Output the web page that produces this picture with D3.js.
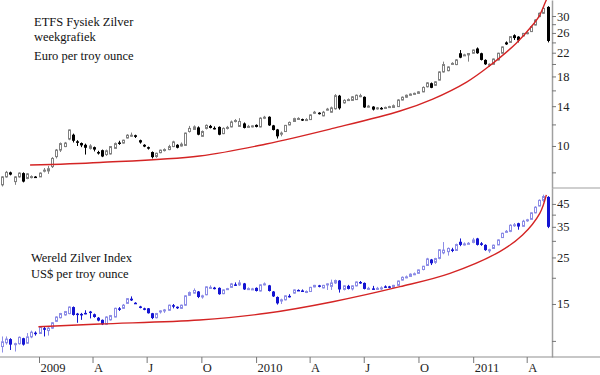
<!DOCTYPE html>
<html>
<head>
<meta charset="utf-8">
<script src="https://cdn.jsdelivr.net/npm/d3@7"></script>
<style>
  body { margin: 0; background: #fff; }
</style>
</head>
<body>
<svg id="chart" width="600" height="375"></svg>
<script>
// first weekly bar (week ending Friday 31 Oct 2008), one bar per week after that
const firstWeek = new Date(2008, 9, 31);

// ETFS Fysiek Zilver, euro per ounce: [open, high, low, close]
const euroBars = [
  [7.2,7.75,7.1,7.7],[7.7,8.1,7.65,8.0],[8.0,8.05,7.8,7.85],[7.4,7.75,7.2,7.7],[7.7,8.0,7.65,7.95],
  [7.95,8.0,7.35,7.4],[7.6,7.95,7.55,7.9],[7.7,7.8,7.6,7.72],[7.72,7.75,7.65,7.7],[7.7,8.0,7.7,7.95],
  [8.1,8.3,8.0,8.15],[8.1,8.45,7.9,8.25],[8.4,9.1,8.3,9.0],[9.14,9.75,9.0,9.66],[9.66,10.3,9.5,10.2],
  [9.95,10.35,9.9,10.25],[10.6,11.5,10.5,11.45],[11.0,11.1,10.3,10.45],[10.4,10.5,10.0,10.3],[10.25,10.3,9.9,10.05],
  [10.1,10.2,9.3,9.85],[9.8,10.15,9.7,10.0],[9.9,9.95,9.55,9.7],[9.5,9.6,9.3,9.45],[9.65,9.7,9.1,9.15],
  [9.3,9.7,9.2,9.6],[9.35,10.0,9.3,9.95],[9.8,10.3,9.75,10.2],[10.3,10.45,10.1,10.25],[10.25,10.55,10.2,10.5],
  [10.7,11.05,10.65,10.95],[10.95,11.2,10.8,10.95],[10.95,11.0,10.7,10.8],[10.5,10.55,10.2,10.3],[10.1,10.15,9.9,9.95],
  [9.9,9.95,9.7,9.8],[9.5,9.55,9.0,9.1],[9.15,9.45,9.05,9.4],[9.45,9.7,9.4,9.65],[9.65,9.8,9.55,9.7],
  [9.7,10.1,9.65,9.95],[9.95,10.45,9.9,10.35],[10.1,10.15,9.8,9.85],[10.0,10.3,9.95,10.15],[10.05,11.2,10.0,11.15],
  [11.3,11.85,11.2,11.6],[11.5,11.9,11.45,11.75],[11.7,11.8,10.95,11.0],[10.85,11.4,10.8,11.3],[11.6,12.0,11.5,11.9],
  [11.85,11.95,11.6,11.65],[11.65,11.8,11.5,11.6],[11.75,11.8,10.95,11.0],[11.1,11.7,11.05,11.6],[11.6,11.85,11.5,11.7],
  [11.75,12.4,11.7,12.25],[12.3,12.55,12.2,12.4],[11.8,12.65,11.75,12.3],[12.1,12.2,11.6,11.65],[11.8,11.95,11.7,11.8],
  [11.8,11.9,11.7,11.85],[11.95,12.0,11.7,11.75],[11.75,12.75,11.7,12.65],[12.7,12.9,12.55,12.75],[12.8,12.85,11.85,11.9],
  [11.9,11.95,11.4,11.45],[11.5,11.55,10.65,10.85],[11.05,11.3,10.85,11.15],[11.3,11.95,11.25,11.9],[11.95,12.3,11.9,12.2],
  [12.3,12.7,12.25,12.6],[12.6,12.75,12.5,12.62],[12.55,12.6,12.35,12.45],[12.45,12.65,12.4,12.5],[12.5,13.05,12.45,13.0],
  [13.2,13.45,13.1,13.3],[13.25,13.3,13.05,13.15],[12.9,13.45,12.85,13.3],[13.6,13.8,13.5,13.65],[13.3,13.95,13.25,13.8],
  [13.7,15.5,13.6,15.3],[15.3,15.4,13.6,13.75],[14.4,14.85,14.3,14.7],[14.8,14.95,14.65,14.8],[14.7,15.25,14.65,15.15],
  [14.8,15.45,14.75,15.35],[15.3,15.55,15.1,15.3],[15.15,15.2,13.8,13.85],[14.0,14.15,13.85,14.0],[13.95,14.0,13.5,13.6],
  [13.7,13.9,13.6,13.8],[13.8,13.9,13.6,13.75],[13.8,13.95,13.7,13.85],[13.9,14.05,13.8,13.95],[13.85,14.2,13.8,14.05],
  [13.95,14.85,13.9,14.75],[14.75,15.2,14.7,15.1],[15.1,15.45,15.0,15.35],[15.35,15.6,15.3,15.5],[15.55,15.7,15.45,15.6],
  [15.6,15.9,15.55,15.8],[15.8,16.55,15.75,16.4],[16.5,17.15,16.4,17.05],[17.0,17.1,16.3,16.35],[16.7,17.3,16.6,17.2],
  [17.45,18.8,17.4,18.7],[18.7,20.4,18.6,19.9],[18.9,19.6,18.8,19.5],[20.05,20.3,19.9,20.1],[19.9,20.85,19.8,20.7],
  [21.9,22.5,21.0,21.1],[21.55,21.8,21.4,21.6],[21.6,21.9,20.4,21.85],[21.9,22.6,21.85,22.5],[22.8,23.0,21.8,21.9],
  [21.9,22.0,20.6,20.7],[20.7,20.8,19.85,19.95],[19.95,20.1,19.5,19.95],[19.95,20.95,19.9,20.85],[20.7,22.0,20.6,21.9],
  [21.9,23.2,21.85,23.1],[24.0,24.2,23.5,23.6],[24.0,25.3,23.9,25.2],[25.5,25.7,24.5,24.9],[25.2,25.3,24.0,24.4],
  [25.35,26.0,25.3,25.9],[25.9,26.3,25.7,26.05],[26.3,27.6,26.2,27.4],[27.8,29.2,27.7,29.0],[29.85,30.9,29.7,30.7],
  [30.7,32.6,30.5,32.0],[32.4,32.6,24.0,24.3]
];

// Wereld Zilver Index, US$ per ounce: [open, high, low, close]
const usdBars = [
  [9.4,10.5,8.8,9.9],[9.8,10.5,9.6,10.2],[10.2,10.3,9.05,9.6],[9.6,9.8,8.9,9.7],[9.7,10.5,9.6,10.4],
  [10.3,10.35,9.5,9.6],[9.75,10.9,9.7,10.45],[10.45,11.2,10.3,11.0],[10.95,11.1,10.6,10.8],[10.85,11.7,10.8,11.6],
  [11.5,11.7,10.5,11.3],[11.2,11.7,10.6,11.5],[11.5,12.3,11.4,12.2],[12.4,13.1,12.3,13.0],[12.9,13.6,12.8,13.5],
  [13.3,13.9,13.2,13.8],[13.5,14.6,13.4,14.5],[14.5,14.6,13.2,13.3],[13.5,13.6,12.2,13.45],[13.45,13.6,12.6,13.4],
  [13.6,14.0,13.4,13.5],[13.8,13.9,12.8,13.6],[13.4,13.5,12.9,13.0],[12.9,13.0,12.4,12.5],[12.6,12.65,11.9,12.0],
  [12.0,13.1,11.9,13.0],[12.6,13.3,12.5,13.2],[13.0,14.4,12.95,14.3],[14.3,14.5,13.9,14.2],[14.3,15.0,14.2,14.8],
  [15.1,16.0,15.0,15.9],[15.9,16.3,15.5,15.6],[15.2,15.3,15.0,15.1],[14.6,14.7,14.3,14.4],[14.3,14.4,14.0,14.1],
  [14.3,14.35,13.5,13.55],[13.55,13.6,12.7,12.85],[12.9,13.6,12.8,13.5],[13.8,14.0,13.5,13.9],[14.0,14.2,13.6,14.05],
  [14.0,14.9,13.9,14.8],[14.8,15.0,14.3,14.75],[14.55,14.6,14.2,14.35],[14.3,14.9,14.2,14.8],[14.8,16.5,14.7,16.4],
  [16.5,17.2,16.4,17.0],[16.9,17.8,16.8,17.4],[17.2,17.3,16.0,16.2],[16.2,16.6,15.9,16.4],[16.6,18.2,16.5,18.1],
  [18.0,18.4,17.7,18.0],[17.95,18.1,17.6,17.8],[17.9,18.0,16.6,16.7],[16.8,17.6,16.7,17.5],[17.7,17.9,17.5,17.75],
  [18.0,18.9,17.9,18.7],[18.6,19.0,18.3,18.5],[18.5,19.5,18.3,18.9],[18.8,18.9,17.5,17.6],[17.7,18.0,17.5,17.75],
  [17.7,17.9,17.5,17.7],[17.9,18.0,17.2,17.3],[17.3,18.6,17.2,18.5],[18.6,19.0,18.4,18.7],[18.4,18.5,17.2,17.3],
  [17.2,17.3,16.2,16.3],[16.2,16.3,14.9,15.1],[15.5,15.9,15.0,15.7],[15.7,16.5,15.6,16.4],[16.4,16.7,16.1,16.35],
  [16.9,17.6,16.8,17.5],[17.5,17.6,17.3,17.4],[17.4,17.6,17.2,17.35],[17.1,17.4,16.9,17.2],[17.2,18.1,17.1,18.0],
  [18.1,18.5,18.0,18.4],[18.4,18.5,18.0,18.1],[17.9,18.5,17.8,18.4],[18.6,18.8,17.5,18.7],[18.2,19.6,17.5,18.9],
  [18.9,19.6,18.7,19.4],[19.4,19.5,17.0,17.6],[17.6,18.4,17.4,18.3],[18.3,18.5,17.6,17.7],[17.7,18.4,17.4,18.3],
  [18.3,19.2,18.2,19.1],[19.1,19.3,18.7,18.9],[18.9,19.0,17.6,17.7],[17.7,18.1,17.5,17.8],[17.8,18.3,17.6,17.75],
  [17.75,18.1,17.5,17.8],[17.8,18.2,17.5,17.9],[18.2,18.4,17.9,18.1],[18.2,18.3,17.8,18.0],[18.0,18.5,17.9,18.4],
  [18.4,19.4,18.3,19.3],[19.5,20.3,19.4,20.1],[20.2,20.5,19.9,20.2],[20.3,21.0,20.2,20.8],[20.8,21.2,20.6,20.9],
  [21.0,21.9,20.9,21.8],[21.9,22.8,21.7,22.7],[22.9,24.9,22.8,24.6],[24.45,24.6,23.0,23.45],[23.7,24.9,23.3,24.7],
  [24.75,27.4,24.5,27.2],[26.3,29.6,25.9,27.1],[26.65,27.9,25.5,27.6],[27.3,27.8,26.5,27.0],[27.0,29.1,26.9,28.8],
  [29.7,30.8,28.3,28.7],[29.0,29.5,28.5,29.0],[29.0,29.6,28.9,29.2],[29.5,31.0,29.2,30.3],[30.8,31.0,28.5,28.7],
  [29.2,29.6,28.4,28.7],[28.7,28.9,26.9,27.1],[27.1,27.5,26.3,27.2],[27.6,28.8,27.5,28.6],[28.7,30.5,28.6,30.3],
  [31.1,32.8,31.0,32.6],[33.2,33.8,32.8,33.3],[33.3,36.0,33.0,35.6],[35.6,36.5,35.0,35.8],[36.4,36.6,33.9,35.1],
  [35.2,37.8,35.1,37.2],[37.5,38.2,37.0,37.8],[38.0,41.0,37.9,40.8],[40.8,43.9,40.6,43.4],[44.0,47.3,43.8,46.8],
  [46.8,49.8,46.0,48.8],[48.6,49.0,34.5,35.0]
];

// red support curves: [date, value]
const euroCurve = [
  ["2008-12-17", 8.51], ["2009-04-13", 8.7], ["2009-09-28", 9.19], ["2010-01-18", 10.17],
  ["2010-05-10", 11.6], ["2010-08-31", 13.44], ["2010-10-25", 14.87], ["2010-12-21", 17.17],
  ["2011-01-26", 19.5], ["2011-03-14", 23.8], ["2011-04-11", 27.8], ["2011-04-23", 30.25],
  ["2011-05-04", 34.35], ["2011-05-08", 35.6]
];
const usdCurve = [
  ["2008-12-31", 11.69], ["2009-04-13", 12.04], ["2009-09-28", 12.58], ["2010-01-18", 13.54],
  ["2010-05-10", 15.38], ["2010-08-31", 18.14], ["2010-11-23", 21.0], ["2011-02-14", 26.6],
  ["2011-03-25", 32.0], ["2011-04-23", 40.6], ["2011-05-04", 49.7]
];

const euroTicks = [8, 10, 12, 14, 16, 18, 20, 22, 24, 26, 28, 30];
const euroLabels = [10, 14, 18, 22, 26, 30];
const usdTicks = [10, 15, 20, 25, 30, 35, 40, 45];
const usdLabels = [15, 25, 35, 45];

const monthTicks = ["2009-01-01", "2009-04-01", "2009-07-01", "2009-10-01", "2010-01-01",
                    "2010-04-01", "2010-07-01", "2010-10-01", "2011-01-01", "2011-04-01"];
const monthLabels = ["2009", "A", "J", "O", "2010", "A", "J", "O", "2011", "A"];

const euroTitle = [["ETFS Fysiek Zilver", 26], ["weekgrafiek", 40.5], ["Euro per troy ounce", 59.5]];
const usdTitle = [["Wereld Zilver Index", 262], ["US$ per troy ounce", 277.5]];

const svg = d3.select("#chart");
const width = 600;
const axisX = 552;
const split = 188;
const bottom = 357;
const font = "'Liberation Serif', 'Times New Roman', serif";
const parse = d3.timeParse("%Y-%m-%d");

const x = d3.scaleTime()
  .domain([new Date(2009, 0, 1), new Date(2011, 3, 1)])
  .range([39, 526.7]);
const yTop = d3.scaleLog().domain([7.01, 34.35]).range([split, 0]);
const yBot = d3.scaleLog().domain([8.38, 53.6]).range([bottom, split]);

const defs = svg.append("defs");
defs.append("clipPath").attr("id", "clipTop")
  .append("rect").attr("x", 0).attr("y", 0).attr("width", axisX).attr("height", split);
defs.append("clipPath").attr("id", "clipBot")
  .append("rect").attr("x", 0).attr("y", split).attr("width", axisX).attr("height", bottom - split);

function drawPanel(bars, y, clipId, upColor, downColor, curve, ticks, labels, title, titleX) {
  const data = bars.map((b, i) => ({
    date: d3.timeWeek.offset(firstWeek, i), o: b[0], h: b[1], l: b[2], c: b[3]
  }));

  const g = svg.append("g").attr("clip-path", `url(#${clipId})`);

  const bar = g.selectAll("g.bar")
    .data(data)
    .join("g")
    .attr("class", "bar")
    .attr("transform", d => `translate(${Math.round(x(d.date))},0)`);

  bar.append("line")
    .attr("x1", 0.5).attr("x2", 0.5)
    .attr("y1", d => y(d.h))
    .attr("y2", d => y(d.l))
    .attr("stroke", d => d.c >= d.o ? upColor : downColor)
    .attr("stroke-width", 1);

  bar.filter(d => d.c >= d.o).append("rect")
    .attr("x", -0.5).attr("width", 2)
    .attr("y", d => y(d.c))
    .attr("height", d => Math.max(y(d.o) - y(d.c), 1))
    .attr("fill", "#fff")
    .attr("stroke", upColor)
    .attr("stroke-width", 1);

  bar.filter(d => d.c < d.o).append("rect")
    .attr("x", -1).attr("width", 3)
    .attr("y", d => y(d.o))
    .attr("height", d => Math.max(y(d.c) - y(d.o), 1.5))
    .attr("fill", downColor);

  const line = d3.line()
    .x(d => x(parse(d[0])))
    .y(d => y(d[1]))
    .curve(d3.curveCatmullRom.alpha(0.5));

  g.append("path")
    .datum(curve)
    .attr("d", line)
    .attr("fill", "none")
    .attr("stroke", "#d42424")
    .attr("stroke-width", 1.4);

  const ax = svg.append("g")
    .attr("transform", `translate(${axisX},0)`)
    .call(d3.axisRight(y)
      .tickValues(ticks)
      .tickSize(4)
      .tickSizeOuter(0)
      .tickFormat(d => labels.includes(d) ? d : ""));
  ax.select(".domain").attr("stroke", "#a0a0a0").attr("stroke-width", 1.5);
  ax.selectAll(".tick line").attr("stroke", "#777");
  ax.selectAll(".tick text")
    .attr("x", 5)
    .attr("font-family", font)
    .attr("font-size", 12.5)
    .attr("fill", "#222");

  svg.append("g").selectAll("text")
    .data(title)
    .join("text")
    .attr("x", titleX)
    .attr("y", d => d[1])
    .attr("font-family", font)
    .attr("font-size", 12.5)
    .attr("fill", "#111")
    .text(d => d[0]);
}

drawPanel(euroBars, yTop, "clipTop", "#808080", "#000000", euroCurve,
  euroTicks, euroLabels, euroTitle, 34);
drawPanel(usdBars, yBot, "clipBot", "#8c8ce6", "#1414d2", usdCurve,
  usdTicks, usdLabels, usdTitle, 31);

// separator between the two price scales
svg.append("line")
  .attr("x1", axisX).attr("x2", width)
  .attr("y1", split).attr("y2", split)
  .attr("stroke", "#a0a0a0").attr("stroke-width", 1.2);

// time axis
svg.append("line")
  .attr("x1", 0).attr("x2", width)
  .attr("y1", bottom).attr("y2", bottom)
  .attr("stroke", "#909090").attr("stroke-width", 1.2);

const xAxis = svg.append("g")
  .attr("transform", `translate(0,${bottom})`)
  .call(d3.axisBottom(x)
    .tickValues(monthTicks.map(parse))
    .tickSize(6)
    .tickFormat((d, i) => monthLabels[i]));
xAxis.select(".domain").remove();
xAxis.selectAll(".tick line").attr("stroke", "#777");
xAxis.selectAll(".tick text")
  .attr("x", 1)
  .attr("y", 6)
  .attr("text-anchor", "start")
  .attr("font-family", font)
  .attr("font-size", 12.5)
  .attr("fill", "#222");
</script>
</body>
</html>
